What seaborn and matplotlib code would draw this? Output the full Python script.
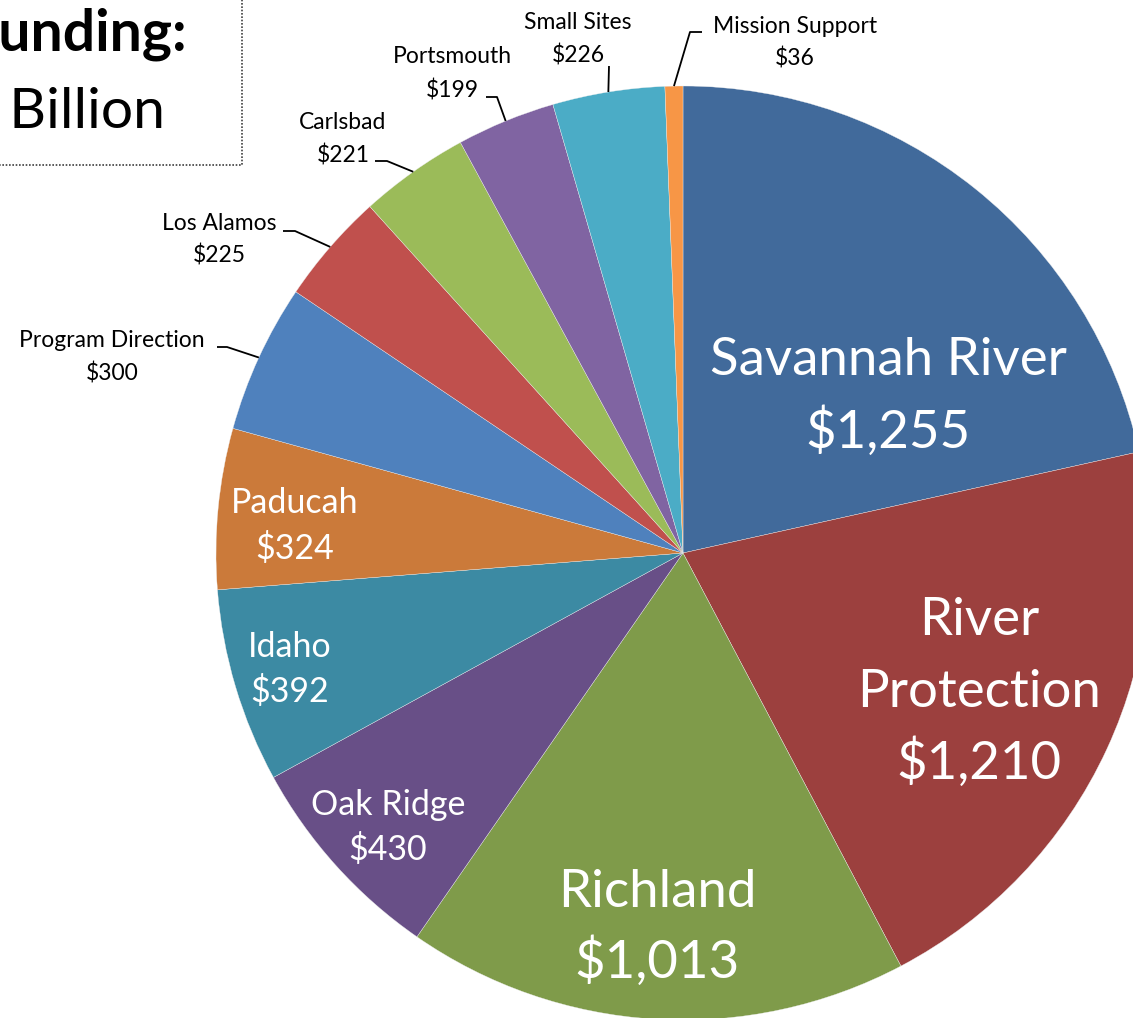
import matplotlib
matplotlib.use("Agg")
import matplotlib.pyplot as plt
import seaborn as sns
from matplotlib.patches import Rectangle
import numpy as np

# data (millions of dollars)
sites = ["Savannah River", "River Protection", "Richland", "Oak Ridge", "Idaho",
         "Paducah", "Program Direction", "Los Alamos", "Carlsbad", "Portsmouth",
         "Small Sites", "Mission Support"]
funding = [1255, 1210, 1013, 430, 392, 324, 300, 225, 221, 199, 226, 36]
site_colors = ["#416A9B", "#9C403E", "#7F9B4A", "#684F87", "#3C8AA3", "#CB7A3A",
               "#4F81BD", "#C0504D", "#9BBB59", "#8064A2", "#4BACC6", "#F79646"]

W, H = 1133, 1018
CX, CY, R = 683, 553, 467

sns.set_theme(style="white")
plt.rcParams['font.family'] = ['Lato', 'DejaVu Sans']

fig = plt.figure(figsize=(W / 100, H / 100), dpi=100)
ax = fig.add_axes([0, 0, 1, 1])

def py(y):
    # pixel row (top down) -> data y
    return H - y

wedges, _ = ax.pie(funding, colors=sns.color_palette(site_colors), startangle=90,
                   counterclock=False, center=(CX, py(CY)), radius=R,
                   wedgeprops=dict(linewidth=0.25, edgecolor="#f0f0f0"))
ax.set_xlim(0, W)
ax.set_ylim(0, H)
ax.set_aspect("equal")
ax.axis("off")

# label layout: x center, first baseline (pixel row), line step, font size
inside = {
    "Savannah River": (888, 375, 73, 38, ["Savannah River"]),
    "River Protection": (979, 635, 72, 38, ["River", "Protection"]),
    "Richland": (657, 907, 71, 38, ["Richland"]),
    "Oak Ridge": (388, 815, 45, 24.5, ["Oak Ridge"]),
    "Idaho": (290, 657, 45, 24.5, ["Idaho"]),
    "Paducah": (295, 513, 46, 24.5, ["Paducah"]),
}
outside = {
    "Program Direction": (112, 347, 33, [(217, 347), (227, 347)]),
    "Los Alamos": (219, 230, 32, [(283, 231), (295, 231)]),
    "Carlsbad": (343, 129, 33, [(375, 161), (387, 161)]),
    "Portsmouth": (452, 63, 34, [(486, 97), (497, 97)]),
    "Small Sites": (578, 29, 33, [(609, 66), (609, 66)]),
    "Mission Support": (795, 33, 32, [(702, 32), (690, 32)]),
}

for name, val, w in zip(sites, funding, wedges):
    value_txt = f"${val:,}"
    if name in inside:
        x, y0, step, fs, name_lines = inside[name]
        lines = name_lines + [value_txt]
        for i, t in enumerate(lines):
            ax.text(x, py(y0 + i * step), t, ha="center", va="baseline",
                    fontsize=fs, color="white")
    else:
        x, y0, step, pts = outside[name]
        for i, t in enumerate([name, value_txt]):
            ax.text(x, py(y0 + i * step), t, ha="center", va="baseline",
                    fontsize=16.5, color="black")
        mid = np.deg2rad((w.theta1 + w.theta2) / 2)
        ex, ey = CX + R * np.cos(mid), py(CY) + R * np.sin(mid)
        xs = [p[0] for p in pts] + [ex]
        ys = [py(p[1]) for p in pts] + [ey]
        ax.plot(xs, ys, color="black", lw=1.3, solid_capstyle="butt")

# title box, partly off the canvas (as in the original crop)
ax.add_patch(Rectangle((-20, py(165)), 262, 200, fill=False, edgecolor="#404040",
                       linestyle=(0, (1, 1)), lw=1.2, clip_on=False))
ax.text(187, py(50), "Funding:", ha="right", va="baseline", fontsize=41,
        fontweight="bold", color="black")
ax.text(165, py(128), "$5.8 Billion", ha="right", va="baseline", fontsize=41,
        color="black")

fig.savefig("out.png", dpi=100)
